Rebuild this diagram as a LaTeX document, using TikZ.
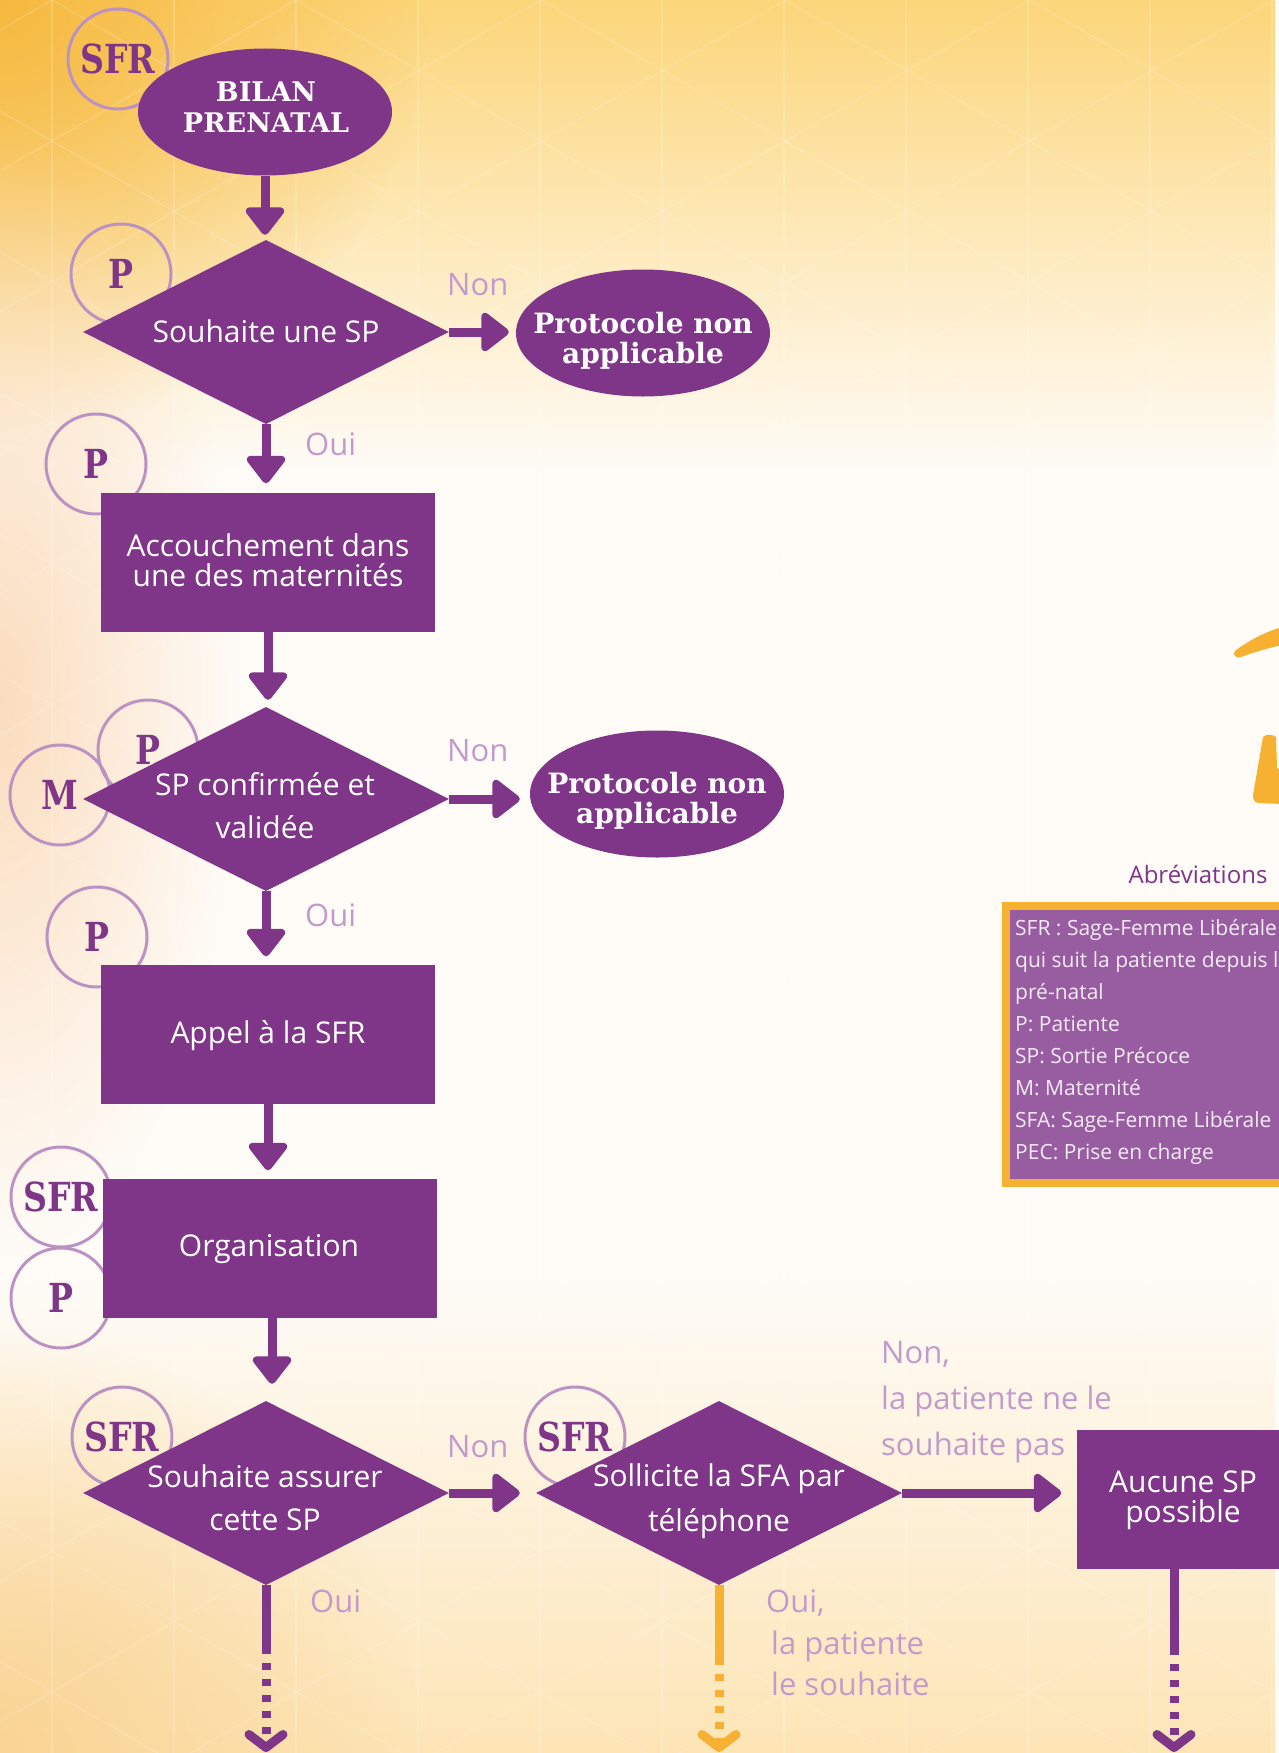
\documentclass[tikz,border=0pt]{standalone}
\usepackage{fontspec}
\setmainfont{Open Sans}
\newfontfamily\slab[FakeStretch=0.83]{DejaVu Serif}
\newfontfamily\slabw{DejaVu Serif}
\usetikzlibrary{shapes.geometric,arrows.meta,fadings,calc}

\definecolor{pur}{HTML}{7F3588}
\definecolor{lab}{HTML}{C39ACB}
\definecolor{circ}{HTML}{BC92C3}
\definecolor{orng}{HTML}{F6B132}
\definecolor{abfill}{HTML}{985CA0}
\definecolor{abtxt}{HTML}{F4EBF5}
\definecolor{bgw}{HTML}{FFFCF8}
\definecolor{topy}{HTML}{FCD67A}
\definecolor{topo}{HTML}{F6B93F}
\definecolor{peach}{HTML}{FBDDBE}
\definecolor{boty}{HTML}{FDE5B6}
\definecolor{botl}{HTML}{FAD494}

\tikzfading[name=fadeDown, top color=transparent!0, bottom color=transparent!100]
\tikzfading[name=fadeUp, top color=transparent!100, bottom color=transparent!0]
\tikzfading[name=fadeRad, inner color=transparent!0, outer color=transparent!100]

\tikzset{
  dia/.style={diamond, fill=pur, inner sep=0pt, minimum width=366pt, minimum height=184pt},
  box/.style={rectangle, fill=pur, inner sep=0pt, minimum width=334pt, minimum height=139pt},
  oval/.style={ellipse, fill=pur, inner sep=0pt, minimum width=254pt, minimum height=127pt},
  btxt/.style={text=white, align=center, inner sep=0pt, font=\fontsize{30}{43}\selectfont},
  otxt/.style={text=white, align=center, inner sep=0pt, font=\slabw\bfseries\fontsize{28}{30}\selectfont},
  role/.style={circle, draw=circ, line width=3pt, minimum size=100pt, inner sep=0pt, text=pur,
               font=\slab\bfseries\fontsize{40}{40}\selectfont},
  lab/.style={text=lab, inner sep=0pt, font=\fontsize{31}{46}\selectfont},
  arr/.style={draw=pur, line width=9pt, -{Triangle[width=44pt,length=30pt,round]}},
  solidpart/.style={draw=#1, line width=9pt},
  dashpart/.style={draw=#1, line width=9pt, dash pattern=on 7pt off 9pt,
                   -{Straight Barb[length=13pt,width=34pt,round]}},
  abox/.style={rectangle, draw=orng, line width=8pt, fill=abfill, inner sep=0pt,
               minimum width=300pt, minimum height=277pt}
}

\begin{document}
\begin{tikzpicture}[x=1pt, y=-1pt]
\useasboundingbox (0,0) rectangle (1279,1753);
\clip (0,0) rectangle (1279,1753);

% background
\fill[bgw] (0,0) rectangle (1279,1753);
\fill[topy, path fading=fadeDown] (0,0) rectangle (1279,470);
\fill[topo, path fading=fadeRad] (0,0) circle (430);
\fill[peach, path fading=fadeRad] (0,700) ellipse (240 and 560);
\fill[boty, path fading=fadeUp] (0,1280) rectangle (1279,1753);
\fill[botl, path fading=fadeRad] (0,1753) circle (420);
\begin{scope}[draw=white, line width=1.2pt, opacity=0.18]
  \foreach \n in {-8,...,14} { \draw (0,{-30+141*\n}) -- (1279,{-30+141*\n+738}); }
  \foreach \n in {0,...,22} { \draw (0,{30+141*\n}) -- (1279,{30+141*\n-738}); }
  \foreach \k in {0,...,10} { \draw ({52+122*\k},0) -- ({52+122*\k},1753); }
\end{scope}

% orange brush marks at the right edge
\fill[orng] (1236,650) .. controls (1250,640) and (1265,632) .. (1282,627) -- (1282,645)
  .. controls (1268,648) and (1252,653) .. (1241,657) .. controls (1234,659) and (1232,653) .. (1236,650) -- cycle;
\fill[orng] (1263,737) .. controls (1266,734) and (1272,734) .. (1276,737) -- (1277,768) -- (1282,770)
  -- (1282,804) -- (1258,803) .. controls (1254,802) and (1253,799) .. (1253,795) -- cycle;

% role circles
\node[role] (c1) at (118,59) {SFR};
\node[role] (c2) at (121,274) {P};
\node[role] (c3) at (96,464) {P};
\node[role] (c4) at (148,750) {P};
\node[role] (c5) at (60,795) {M};
\node[role] (c6) at (97,937) {P};
\node[role] (c7) at (61,1197) {SFR};
\node[role] (c8) at (61,1298) {P};
\node[role] (c9) at (122,1437) {SFR};
\node[role] (c10) at (575,1437) {SFR};

% shapes
\node[oval] (b1) at (265,112) {};
\node[dia] (d1) at (266,332) {};
\node[oval] (p1) at (643,333) {};
\node[box] (r1) at (268,562) {};
\node[dia] (d2) at (266,799) {};
\node[oval] (p2) at (657,794) {};
\node[box] (r2) at (268,1034) {};
\node[box] (r3) at (270,1248) {};
\node[dia] (d3) at (266,1493) {};
\node[dia] (d4) at (719,1493) {};
\node[box, minimum width=213pt] (r4) at (1183,1499) {};

% texts in shapes
\node[otxt, font=\slabw\bfseries\fontsize{27}{31}\selectfont] (b1t) at (266,107) {BILAN\\PRENATAL};
\node[otxt] (p1t) at (643,341) {Protocole non\\applicable};
\node[otxt] (p2t) at (657,801) {Protocole non\\applicable};
\node[btxt, anchor=base] (d1t) at (266,342) {Souhaite une SP};
\node[btxt] (d2t) at (265,806) {SP confirmée et\\validée};
\node[btxt] (d3t) at (265,1498) {Souhaite assurer\\cette SP};
\node[btxt, font=\fontsize{30}{45}\selectfont] (d4t) at (719,1501) {Sollicite la SFA par\\téléphone};
\node[btxt, font=\fontsize{30}{30}\selectfont] (r1t) at (268,560) {Accouchement dans\\une des maternités};
\node[btxt, anchor=base] (r2t) at (268,1043) {Appel à la SFR};
\node[btxt, anchor=base] (r3t) at (269,1256) {Organisation};
\node[btxt, font=\fontsize{30}{30}\selectfont] (r4t) at (1183,1500) {Aucune SP\\possible};

% connectors
\draw[arr, shorten >=5pt] (b1.south) -- (b1.south |- d1.north);
\draw[arr, shorten >=7pt] (d1.east) -- (d1.east -| p1.west);
\draw[arr, shorten >=9pt] (d1.south) -- (d1.south |- r1.north);
\draw[arr, shorten >=7pt] (r1.south) -- (r1.south |- d2.north);
\draw[arr, shorten >=10pt] (d2.east) -- (d2.east -| p2.west);
\draw[arr, shorten >=8pt] (d2.south) -- (d2.south |- r2.north);
\draw[arr, shorten >=8pt] (r2.south) -- (r2.south |- r3.north);
\draw[arr, shorten >=17pt] ([xshift=2pt]r3.south) -- ([xshift=2pt]r3.south |- d3.north);
\draw[arr, shorten >=16pt] (d3.east) -- (d4.west);
\draw[arr, shorten >=15pt] (d4.east) -- (d4.east -| r4.west);

\coordinate (k1) at (266,1647);
\coordinate (e1) at (266,1752);
\coordinate (k2) at (719,1658);
\coordinate (e2) at (719,1752);
\coordinate (k3) at (1174,1648);
\coordinate (e3) at (1174,1752);
\draw[solidpart=pur] (d3.south) -- (k1);
\draw[dashpart=pur] (k1) -- (e1);
\draw[solidpart=orng] (d4.south) -- (k2);
\draw[dashpart=orng] (k2) -- (e2);
\draw[solidpart=pur] (r4.south -| k3) -- (k3);
\draw[dashpart=pur] (k3) -- (e3);

% branch labels
\node[lab, anchor=base west] (n1) at (447,295) {Non};
\node[lab, anchor=base west] (o1) at (305,455) {Oui};
\node[lab, anchor=base west] (n2) at (447,761) {Non};
\node[lab, anchor=base west] (o2) at (305,926) {Oui};
\node[lab, anchor=base west] (n3) at (447,1457) {Non};
\node[lab, anchor=base west] (o3) at (310,1612) {Oui};
\node[lab, anchor=north west, align=left] (n4) at (881,1341) {Non,\\la patiente ne le\\souhaite pas};
\node[lab, anchor=north west, align=left, font=\fontsize{31}{41.5}\selectfont] (o4) at (766,1590)
  {Oui,\\\hspace*{5pt}la patiente\\\hspace*{5pt}le souhaite};

% abbreviations
\node[text=pur, anchor=base, inner sep=0pt, font=\fontsize{24}{28}\selectfont] (abt) at (1198,883) {Abréviations};
\node[abox, anchor=north west] (abbr) at (1002,902) {};
\node[text=abtxt, anchor=north west, align=left, inner sep=0pt, font=\fontsize{21}{32}\selectfont] (abl) at (1015,919)
  {SFR : Sage-Femme Libérale\\qui suit la patiente depuis le\\pré-natal\\P: Patiente\\SP: Sortie Précoce\\M: Maternité\\SFA: Sage-Femme Libérale\\PEC: Prise en charge};
\end{tikzpicture}
\end{document}
